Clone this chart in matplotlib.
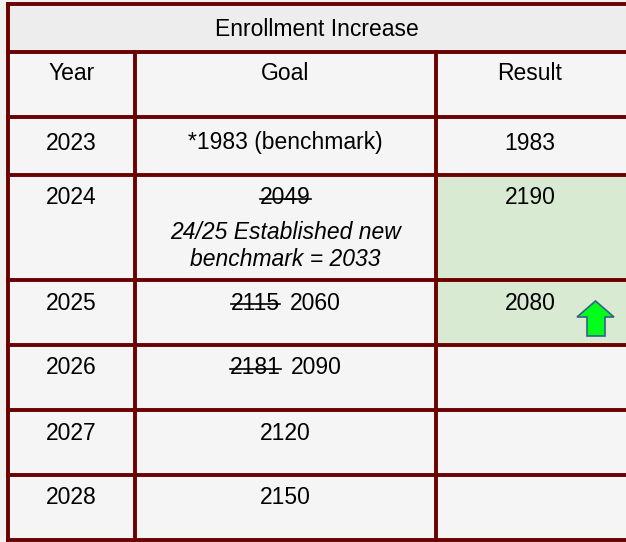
import matplotlib
matplotlib.use("Agg")
import matplotlib.pyplot as plt
from matplotlib.patches import Rectangle, Polygon

plt.rcParams['font.family'] = ['Liberation Sans', 'DejaVu Sans']

title = "Enrollment Increase"
headers = ["Year", "Goal", "Result"]
years = ["2023", "2024", "2025", "2026", "2027", "2028"]
old_goals = [None, "2049", "2115", "2181", None, None]
goals = ["*1983 (benchmark)", None, "2060", "2090", "2120", "2150"]
goal_notes = [None, "24/25 Established new\nbenchmark = 2033", None, None, None, None]
results = ["1983", "2190", "2080", "", "", ""]
highlight = [False, True, True, False, False, False]
arrow_up = [False, False, True, False, False, False]

# layout in pixels
W, H = 626, 542
col_edges = [8, 135, 436, 640]
row_edges = [4, 52, 117, 175, 280, 345, 410, 475, 540]
text_offset = [26, 23, 23, 23, 23, 23]
line_col = '#6b0000'
cell_bg = '#f5f5f5'
title_bg = '#ededed'
green_bg = '#d9ead3'
fs = 16.5

fig = plt.figure(figsize=(W / 100, H / 100), dpi=100)
fig.patch.set_facecolor('#f1f1f1')
ax = fig.add_axes([0, 0, 1, 1])
ax.set_xlim(0, W)
ax.set_ylim(H, 0)
ax.axis('off')

# backgrounds
ax.add_patch(Rectangle((col_edges[0], row_edges[0]), col_edges[-1] - col_edges[0],
                       row_edges[1] - row_edges[0], color=title_bg, zorder=0))
ax.add_patch(Rectangle((col_edges[0], row_edges[1]), col_edges[-1] - col_edges[0],
                       row_edges[-1] - row_edges[1], color=cell_bg, zorder=0))
for i, hl in enumerate(highlight):
    if hl:
        y0, y1 = row_edges[i + 2], row_edges[i + 3]
        ax.add_patch(Rectangle((col_edges[2], y0), col_edges[3] - col_edges[2], y1 - y0,
                               color=green_bg, zorder=0))

# grid lines
lw = 2.8
for y in row_edges:
    ax.plot([col_edges[0], col_edges[-1]], [y, y], color=line_col, lw=lw, zorder=3,
            solid_capstyle='projecting')
ax.plot([col_edges[0]] * 2, [row_edges[0], row_edges[-1]], color=line_col, lw=lw, zorder=3,
        solid_capstyle='projecting')
for x in col_edges[1:3]:
    ax.plot([x, x], [row_edges[1], row_edges[-1]], color=line_col, lw=lw, zorder=3)

centers = [(col_edges[i] + col_edges[i + 1]) / 2 for i in range(3)]
centers[2] = 530

ax.text((col_edges[0] + 626) / 2, (row_edges[0] + row_edges[1]) / 2 + 1, title,
        ha='center', va='center', fontsize=fs)
for c, h in zip(centers, headers):
    ax.text(c, row_edges[1] + 21, h, ha='center', va='center', fontsize=fs)

fig.canvas.draw()
renderer = fig.canvas.get_renderer()
inv = ax.transData.inverted()


def strike(t):
    bb = t.get_window_extent(renderer)
    (x0, y0), (x1, y1) = inv.transform([[bb.x0, bb.y0], [bb.x1, bb.y1]])
    ym = (y0 + y1) / 2 + 1
    ax.plot([x0, x1], [ym, ym], color='black', lw=1.2, zorder=4)


def width_of(s):
    t = ax.text(0, 0, s, fontsize=fs)
    bb = t.get_window_extent(renderer)
    t.remove()
    (x0, _), (x1, _) = inv.transform([[bb.x0, 0], [bb.x1, 0]])
    return x1 - x0


gap = 10
for i, yr in enumerate(years):
    top = row_edges[i + 2]
    yc = top + text_offset[i]
    ax.text(centers[0], yc, yr, ha='center', va='center', fontsize=fs)
    ax.text(centers[2], yc, results[i], ha='center', va='center', fontsize=fs)
    old, new, note = old_goals[i], goals[i], goal_notes[i]
    if old and new:
        w_old, w_new = width_of(old), width_of(new)
        x_start = centers[1] - (w_old + gap + w_new) / 2
        t = ax.text(x_start, yc, old, ha='left', va='center', fontsize=fs)
        ax.text(x_start + w_old + gap, yc, new, ha='left', va='center', fontsize=fs)
        strike(t)
    elif old:
        t = ax.text(centers[1], yc, old, ha='center', va='center', fontsize=fs)
        strike(t)
    elif new:
        ax.text(centers[1], yc, new, ha='center', va='center', fontsize=fs)
    if note:
        ax.text(centers[1], yc + 48, note, ha='center', va='center', fontsize=fs,
                style='italic', linespacing=1.22)
    if arrow_up[i]:
        # up arrow icon next to the result
        hx0, hx1 = 577, 614
        sx0, sx1 = 587, 605
        pts = [((hx0 + hx1) / 2, top + 21), (hx1, top + 37), (sx1, top + 37),
               (sx1, top + 56), (sx0, top + 56), (sx0, top + 37), (hx0, top + 37)]
        ax.add_patch(Polygon(pts, closed=True, facecolor='#00ff1a', edgecolor='#3a5f8a',
                             lw=1.2, zorder=5))

fig.savefig('out.png', dpi=100, facecolor=fig.get_facecolor())
